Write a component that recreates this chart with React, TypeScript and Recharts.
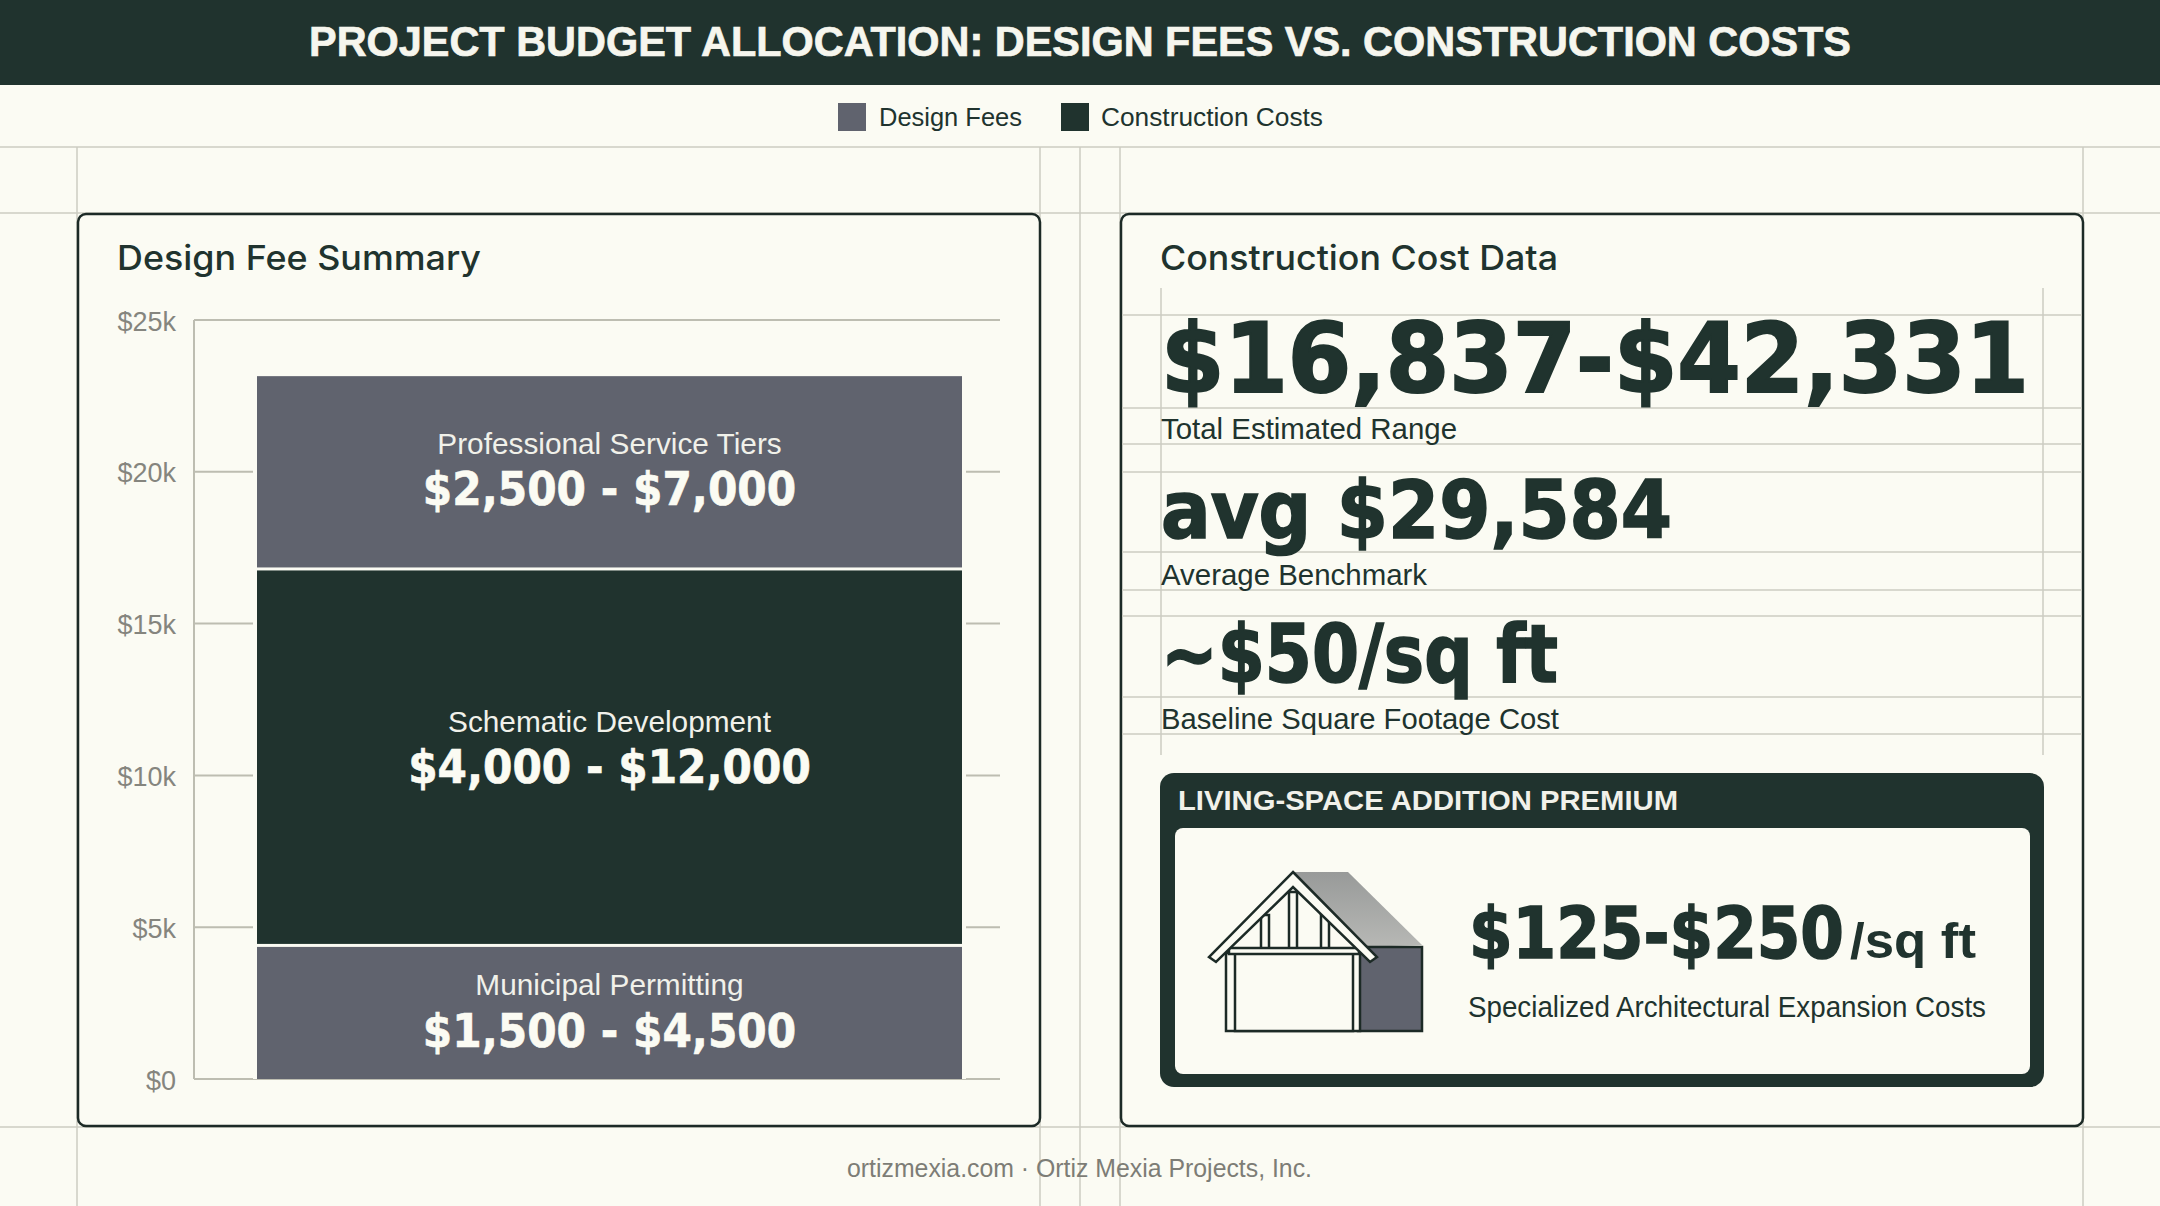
import { BarChart, Bar, XAxis, YAxis, CartesianGrid } from "recharts"

const BG = "#fbfbf3"
const DARK = "#20332e"
const GRAY = "#60636e"
const RULE = "#cdcdc2"
const AXIS = "#bdbdb1"
const BODY = "'Liberation Sans', Arial, sans-serif"
const HEADING = "Inter, 'Liberation Sans', sans-serif"
const HEAVY = "'DejaVu Sans Condensed', 'DejaVu Sans', sans-serif"

// in dollars
const segmentKeys = ["municipal", "schematic", "professional"]
const segmentValues = [4400, 12400, 6400]
const segmentNames = ["Municipal Permitting", "Schematic Development", "Professional Service Tiers"]
const segmentRanges = ["$1,500 - $4,500", "$4,000 - $12,000", "$2,500 - $7,000"]
const segmentColors = [GRAY, DARK, GRAY]
const yTicks = [0, 5000, 10000, 15000, 20000, 25000]
const legendNames = ["Design Fees", "Construction Costs"]

const chartData = [
  Object.fromEntries([
    ["category", "Design Fee Summary"],
    ...segmentKeys.map((k, i) => [k, segmentValues[i]]),
  ]),
]

// text sits a bit differently in each block
const nameShift = [-17, -25, -18]
const rangeShift = [35, 26, 33]

function Txt({ x, y, size, w, fill = DARK, weight = 400, family = BODY, thicken = 0, children }: any) {
  return (
    <text
      x={x}
      y={y}
      fontSize={size}
      fontWeight={weight}
      fontFamily={family}
      fill={fill}
      stroke={thicken ? fill : undefined}
      strokeWidth={thicken || undefined}
      textLength={w}
      lengthAdjust="spacingAndGlyphs"
    >
      {children}
    </text>
  )
}

function Segment({ x, y, width, height, index }: any) {
  const cx = x + width / 2
  const cy = y + height / 2
  return (
    <g>
      <rect x={x - 4} y={y} width={width + 8} height={height} fill={BG} />
      <rect
        x={x}
        y={y + 1.5}
        width={width}
        height={height - (index === 0 ? 1.5 : 3)}
        fill={segmentColors[index]}
      />
      <text
        x={cx}
        y={cy + nameShift[index]}
        textAnchor="middle"
        fontFamily={BODY}
        fontSize={29.8}
        fill="#f1f1ea"
      >
        {segmentNames[index]}
      </text>
      <text
        x={cx}
        y={cy + rangeShift[index]}
        textAnchor="middle"
        fontFamily={HEAVY}
        fontWeight={700}
        fontSize={47}
        fill="#fbfbf3"
        stroke="#fbfbf3"
        strokeWidth={0.6}
      >
        {segmentRanges[index]}
      </text>
    </g>
  )
}

function Backdrop() {
  const pageH = [147, 213, 1127]
  const pageV = [77, 1040, 1080, 1120, 2083]
  const kpiH = [315, 408, 444, 472, 552, 590, 616, 697, 734]
  const kpiV = [1161, 2043]
  return (
    <svg width={2160} height={1206} style={{ position: "absolute", left: 0, top: 0 }}>
      <rect width={2160} height={1206} fill={BG} />
      {pageH.map((y) => (
        <line key={y} x1={0} x2={2160} y1={y} y2={y} stroke={RULE} strokeWidth={1.5} />
      ))}
      {pageV.map((x) => (
        <line key={x} x1={x} x2={x} y1={147} y2={1206} stroke={RULE} strokeWidth={1.5} />
      ))}
      <rect x={0} y={0} width={2160} height={85} fill={DARK} />
      <text
        x={1080}
        y={56}
        textAnchor="middle"
        fontFamily={BODY}
        fontWeight={700}
        fontSize={42}
        fill="#f6f6ee"
        stroke="#f6f6ee"
        strokeWidth={0.7}
        textLength={1542}
        lengthAdjust="spacingAndGlyphs"
      >
        PROJECT BUDGET ALLOCATION: DESIGN FEES VS. CONSTRUCTION COSTS
      </text>

      <rect x={838} y={103} width={28} height={28} fill={GRAY} />
      <Txt x={879} y={126} size={26} w={143}>{legendNames[0]}</Txt>
      <rect x={1061} y={103} width={28} height={28} fill={DARK} />
      <Txt x={1101} y={126} size={26} w={222}>{legendNames[1]}</Txt>

      <rect x={78} y={214} width={962} height={912} rx={8} fill={BG} stroke="#1c2a26" strokeWidth={2.5} />
      <rect x={1121} y={214} width={962} height={912} rx={8} fill={BG} stroke="#1c2a26" strokeWidth={2.5} />
      <Txt x={117} y={270} size={34} weight={500} family={HEADING} w={364}>Design Fee Summary</Txt>
      <Txt x={1160} y={270} size={34} weight={500} family={HEADING} w={398}>Construction Cost Data</Txt>

      {kpiH.map((y) => (
        <line key={y} x1={1122} x2={2082} y1={y} y2={y} stroke={RULE} strokeWidth={1.5} />
      ))}
      {kpiV.map((x) => (
        <line key={x} x1={x} x2={x} y1={288} y2={755} stroke={RULE} strokeWidth={1.5} />
      ))}

      <Txt x={1161} y={392} size={97} weight={700} family={HEAVY} thicken={2} w={868}>$16,837-$42,331</Txt>
      <Txt x={1161} y={439} size={29} w={296}>Total Estimated Range</Txt>
      <Txt x={1161} y={538} size={80} weight={700} family={HEAVY} thicken={1.6} w={511}>avg $29,584</Txt>
      <Txt x={1161} y={585} size={29} w={266}>Average Benchmark</Txt>
      <Txt x={1161} y={682} size={80} weight={700} family={HEAVY} thicken={1.6} w={397}>~$50/sq ft</Txt>
      <Txt x={1161} y={729} size={29} w={398}>Baseline Square Footage Cost</Txt>

      <rect x={1160} y={773} width={884} height={314} rx={14} fill={DARK} />
      <rect x={1175} y={828} width={855} height={246} rx={8} fill={BG} />
      <Txt x={1178} y={810} size={28} weight={700} fill="#f1f1ea" w={500}>LIVING-SPACE ADDITION PREMIUM</Txt>
      <Txt x={1469} y={958} size={72} weight={700} family={HEAVY} thicken={1.5} w={375}>$125-$250</Txt>
      <Txt x={1850} y={958} size={50} weight={700} w={126}>/sq ft</Txt>
      <Txt x={1468} y={1017} size={29} w={518}>Specialized Architectural Expansion Costs</Txt>

      <HouseIcon />

      <Txt x={847} y={1177} size={25} fill="#7d7d76" w={465}>ortizmexia.com · Ortiz Mexia Projects, Inc.</Txt>
    </svg>
  )
}

function HouseIcon() {
  const ink = { stroke: "#1c2a26", strokeWidth: 2.5, fill: BG }
  const studs = [
    { x: 1261, top: 915 },
    { x: 1289, top: 892 },
    { x: 1321, top: 915 },
  ]
  return (
    <g>
      <defs>
        <linearGradient id="roofShade" x1="0" y1="0" x2="0" y2="1">
          <stop offset="0%" stopColor="#989a99" />
          <stop offset="100%" stopColor="#b7b8b5" />
        </linearGradient>
      </defs>
      <polygon points="1293,872 1348,872 1422,945 1360,947" fill="url(#roofShade)" />
      <rect x={1358} y={947} width={64} height={84} fill={GRAY} stroke="#1c2a26" strokeWidth={2.5} />
      {studs.map((s) => (
        <rect key={s.x} x={s.x} y={s.top} width={8} height={950 - s.top} {...ink} />
      ))}
      <rect x={1226} y={953} width={134} height={78} {...ink} />
      <rect x={1235} y={953} width={118} height={78} {...ink} />
      <rect x={1229} y={948} width={130} height={6} {...ink} />
      <polygon points="1293,872 1377,957 1370,962 1293,887 1216,962 1209,957" {...ink} />
    </g>
  )
}

export default function App() {
  return (
    <div style={{ position: "absolute", left: 0, top: 0, width: 2160, height: 1206, overflow: "hidden" }}>
      <Backdrop />
      <div style={{ position: "absolute", left: 77, top: 213 }}>
        <BarChart
          width={963}
          height={914}
          data={chartData}
          margin={{ top: 107, right: 40, bottom: 48, left: 0 }}
          barCategoryGap={38}
        >
          <CartesianGrid vertical={false} stroke={AXIS} strokeWidth={2} />
          <XAxis dataKey="category" hide padding={{ left: 25, right: 0 }} />
          <YAxis
            width={117}
            domain={[0, 25000]}
            ticks={yTicks}
            tickFormatter={(v: number) => (v === 0 ? "$0" : `$${v / 1000}k`)}
            tick={{ fill: "#85857e", fontSize: 27, fontFamily: BODY, dy: 1 }}
            tickLine={false}
            tickMargin={12}
            axisLine={{ stroke: AXIS, strokeWidth: 2 }}
          />
          {segmentKeys.map((key, i) => (
            <Bar
              key={key}
              dataKey={key}
              stackId="fees"
              isAnimationActive={false}
              fill={segmentColors[i]}
              shape={(p: any) => <Segment {...p} index={i} />}
            />
          ))}
        </BarChart>
      </div>
    </div>
  )
}
